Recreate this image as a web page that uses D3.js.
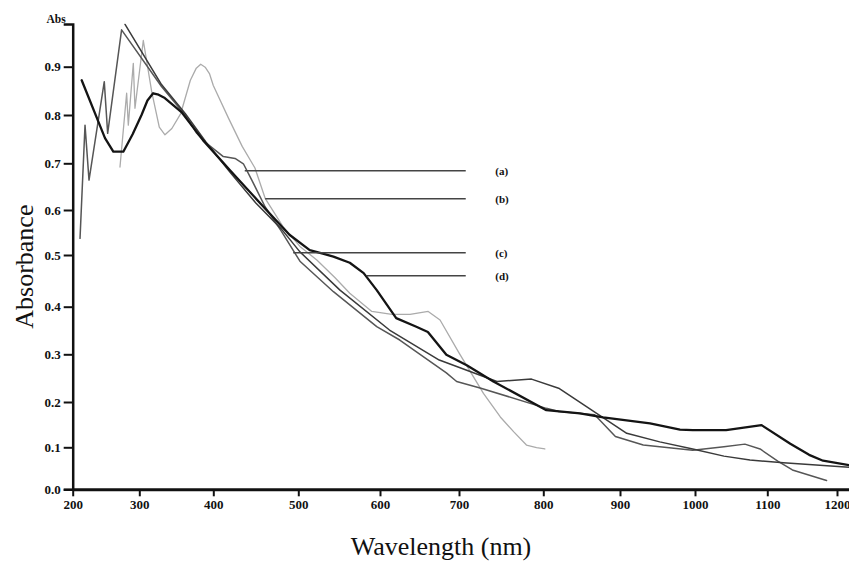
<!DOCTYPE html>
<html><head><meta charset="utf-8">
<script src="https://cdn.jsdelivr.net/npm/d3@7"></script>
<style>body{margin:0;background:#fff}svg{display:block;background:#fff}</style>
</head><body><svg id="chart" width="849" height="561"></svg>
<script>
// ---- data (wavelength nm, absorbance) ----
const wavelengthTicks = [200,300,400,500,600,700,800,900,1000,1100,1200];
const absorbanceTicks = [0,0.1,0.2,0.3,0.4,0.5,0.6,0.7,0.8,0.9];

const curveA = [[271,0.692],[281,0.845],[283.5,0.779],[291,0.907],[293.5,0.814],[305.4,0.954],[316.8,0.848],[327,0.775],[334.7,0.759],[344,0.772],[356,0.803],[369,0.872],[377,0.897],[383,0.905],[389,0.899],[395,0.885],[400,0.861],[418,0.793],[434,0.735],[449,0.690],[461,0.625],[482,0.563],[502,0.519],[523,0.490],[545,0.456],[563,0.426],[590,0.390],[615,0.384],[638,0.384],[661,0.390],[676,0.372],[700,0.303],[729,0.218],[749,0.167],[765,0.134],[780,0.105],[792,0.099],[802,0.096]];

const curveB = [[211,0.537],[218.5,0.779],[224.5,0.664],[247.4,0.869],[252.5,0.762],[273.4,0.976],[330,0.859],[362,0.800],[377.6,0.762],[388.9,0.744],[411.8,0.714],[425.6,0.710],[435.4,0.699],[445.3,0.664],[460.9,0.607],[480,0.553],[502,0.488],[543,0.429],[596,0.358],[625,0.330],[684,0.261],[697,0.243],[726,0.229],[804,0.186],[820,0.179],[867,0.172],[894,0.124],[931,0.105],[997,0.093],[1040,0.101],[1069,0.107],[1090,0.096],[1115,0.067],[1136,0.046],[1185,0.021]];

const curveC = [[278.6,0.987],[330,0.863],[362,0.803],[390,0.744],[420,0.680],[450,0.615],[480,0.558],[502,0.507],[551,0.432],[612,0.351],[675,0.288],[745,0.243],[786,0.248],[820,0.229],[873,0.171],[909,0.131],[953,0.112],[997,0.096],[1040,0.079],[1076,0.070],[1123,0.063],[1219,0.052]];

const curveD = [[213.5,0.872],[248.5,0.752],[261,0.724],[276,0.724],[290,0.760],[303,0.800],[311,0.830],[318.7,0.845],[326,0.842],[334.5,0.835],[357,0.806],[386,0.748],[419.6,0.685],[459,0.607],[489.6,0.545],[514,0.511],[530,0.503],[543,0.497],[563,0.485],[580,0.465],[596,0.432],[620.5,0.376],[646,0.358],[660.6,0.347],[684,0.299],[709.2,0.277],[740.8,0.243],[804,0.182],[847.8,0.175],[878,0.166],[940,0.153],[980,0.139],[997,0.138],[1043,0.138],[1092,0.149],[1133,0.108],[1160,0.082],[1180,0.068],[1219,0.057]];

const labelNames = ["(a)","(b)","(c)","(d)"];
const labelAbs = [0.684,0.624,0.505,0.460];
const labelStartWl = [437,461,494,584];
const labelEndWl = 708;
const labelTextWl = 743;

// ---- scales (calibrated to the scanned axis ticks) ----
const svg = d3.select("#chart");
const xStops = [...wavelengthTicks, 1217];
const xPx = [72.7,139.3,213.3,298.3,380,459,543.3,620,695,767.3,837,849];
const yStops = [...absorbanceTicks, 0.988];
const yPx = [489.3,447.3,402,354.3,306.7,255,210,163.3,115,66.7,24];
const x = d3.scaleLinear().domain(xStops).range(xPx);
const y = d3.scaleLinear().domain(yStops).range(yPx);

const serif = "'Liberation Serif','Times New Roman',serif";

// y axis
const gy = svg.append("g").attr("transform", `translate(${x(200)},0)`)
  .call(d3.axisLeft(y).tickValues(absorbanceTicks).tickFormat(d3.format(".1f"))
    .tickSize(9).tickSizeOuter(9).tickPadding(3));
gy.select(".domain").attr("stroke","#111").attr("stroke-width",2.5);
gy.selectAll(".tick line").attr("stroke","#111").attr("stroke-width",2);
gy.selectAll(".tick text").attr("font-family",serif).attr("font-weight","bold")
  .attr("font-size",13).attr("fill","#111");

// x axis
const gx = svg.append("g").attr("transform", `translate(0,${y(0)})`)
  .call(d3.axisBottom(x).tickValues(wavelengthTicks).tickFormat(d3.format("d"))
    .tickSize(7).tickSizeOuter(0).tickPadding(3));
gx.select(".domain").attr("stroke","#111").attr("stroke-width",3);
gx.selectAll(".tick line").attr("stroke","#111").attr("stroke-width",2);
gx.selectAll(".tick text").attr("font-family",serif).attr("font-weight","bold")
  .attr("font-size",13).attr("fill","#111");

// "Abs" unit label at top of the y axis
svg.append("text").attr("x", x(200) - 7).attr("y", y(0.988) - 1)
  .attr("text-anchor","end").attr("font-family",serif).attr("font-weight","bold")
  .attr("font-size",11.5).attr("fill","#111").text("Abs");

// axis titles
svg.append("text").attr("transform",`translate(33,${(y(0)+y(0.988))/2 + 10}) rotate(-90)`)
  .attr("text-anchor","middle").attr("font-family",serif).attr("font-size",26)
  .attr("fill","#111").text("Absorbance");
svg.append("text").attr("x", 441).attr("y", 555)
  .attr("text-anchor","middle").attr("font-family",serif).attr("font-size",26)
  .attr("fill","#111").text("Wavelength (nm)");

// curves
const line = d3.line().x(d => x(d[0])).y(d => y(d[1])).curve(d3.curveLinear);
const series = [
  {data: curveA, color: "#ababab", width: 1.3},
  {data: curveB, color: "#565656", width: 1.5},
  {data: curveC, color: "#3a3a3a", width: 1.5},
  {data: curveD, color: "#141414", width: 2.3}
];
svg.append("g").selectAll("path").data(series).join("path")
  .attr("d", s => line(s.data)).attr("fill","none")
  .attr("stroke", s => s.color).attr("stroke-width", s => s.width)
  .attr("stroke-linejoin","round").attr("stroke-linecap","round");

// leader lines and labels
const lg = svg.append("g");
labelNames.forEach((name, i) => {
  lg.append("line").attr("x1", x(labelStartWl[i])).attr("x2", x(labelEndWl))
    .attr("y1", y(labelAbs[i])).attr("y2", y(labelAbs[i]))
    .attr("stroke","#444").attr("stroke-width",1.6);
  lg.append("text").attr("x", x(labelTextWl)).attr("y", y(labelAbs[i]))
    .attr("dy","0.35em").attr("font-family",serif).attr("font-weight","bold")
    .attr("font-size",11).attr("fill","#111").text(name);
});
</script>
</body></html>
